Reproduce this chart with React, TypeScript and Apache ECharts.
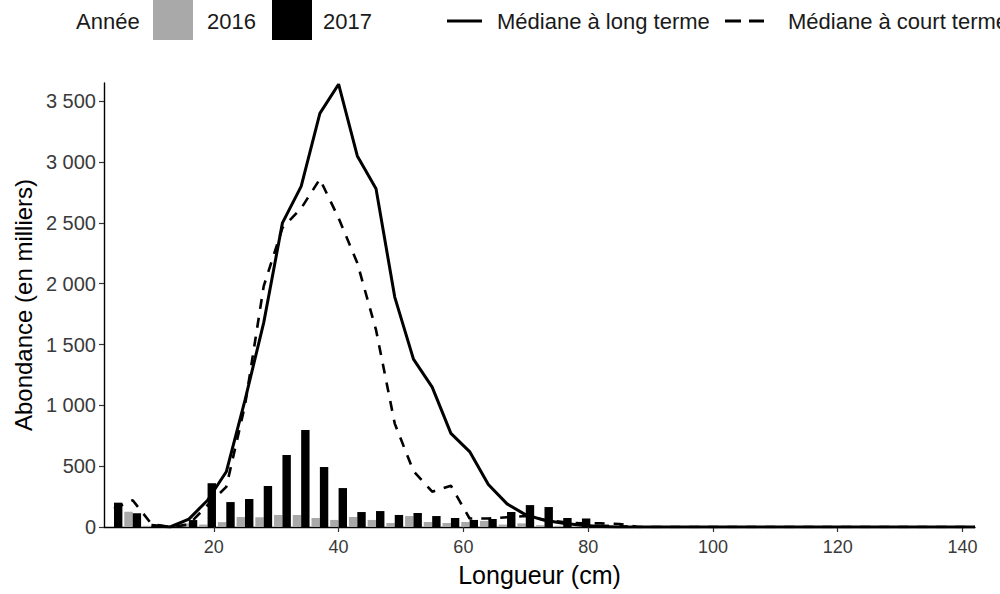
import React, { useEffect, useRef } from "react";
import * as echarts from "echarts";

// Length classes (cm), bin centres
const lengthCm = [
  4, 7, 10, 13, 16, 19, 22, 25, 28, 31, 34, 37, 40, 43, 46, 49, 52, 55, 58, 61,
  64, 67, 70, 73, 76, 79, 82, 85, 88, 91, 94, 97, 100, 103, 106, 109, 112, 115,
  118, 121, 124, 127, 130, 133, 136, 139, 142,
];

// Abundance (thousands) by year
const abundance2016 = [
  0, 126, 10, 5, 30, 20, 40, 82, 80, 99, 99, 74, 58, 82, 58, 33, 90, 41, 33, 41,
  50, 20, 30, 15, 10, 5, 0, 0, 0, 0, 0, 0, 0, 0, 0, 0, 0, 0,
  0, 0, 0, 0, 0, 0, 0, 0, 0,
];
const abundance2017 = [
  200, 113, 10, 5, 57, 360, 205, 230, 337, 592, 797, 493, 320, 123, 131, 99, 115, 90, 74, 58,
  66, 123, 180, 164, 74, 70, 20, 15, 0, 0, 0, 0, 0, 0, 0, 0, 0, 0,
  0, 0, 0, 0, 0, 0, 0, 0, 0,
];

// Medians
const medianLongTerm: (number | null)[] = [
  null, null, 15, 0, 65, 220, 454, 1043, 1680, 2500, 2800, 3400, 3640, 3050, 2780, 1890, 1380, 1150, 770, 620,
  350, 190, 100, 55, 30, 15, 5, 0, 0, 0, 0, 0, 0, 0, 0, 0, 0, 0,
  0, 0, 0, 0, 0, 0, 0, 0, 0,
];
const medianShortTerm: (number | null)[] = [
  150, 220, 25, 0, 20, 180, 330, 1000, 1980, 2460, 2620, 2860, 2540, 2170, 1620, 850, 460, 290, 340, 70,
  70, 80, 90, 60, 40, 30, 30, 25, 0, 0, 0, 0, 0, 0, 0, 0, 0, 0,
  0, 0, 0, 0, 0, 0, 0, 0, 0,
];

const xTickValues = [20, 40, 60, 80, 100, 120, 140];
const yTickValues = [0, 500, 1000, 1500, 2000, 2500, 3000, 3500];

const FONT = "'Liberation Sans', Arial, Helvetica, sans-serif";

export default function App() {
  const ref = useRef<HTMLDivElement>(null);

  useEffect(() => {
    if (!ref.current) return;
    const chart = echarts.init(ref.current, null, { renderer: "svg" });
    const fmt = (v: number) =>
      String(v).replace(/\B(?=(\d{3})+(?!\d))/g, " ");
    const pairs = (arr: (number | null)[]) =>
      lengthCm
        .map((x, i) => [x, arr[i]])
        .filter((p) => p[1] !== null && p[1] !== undefined);

    chart.setOption({
      animation: false,
      backgroundColor: "#ffffff",
      grid: { left: 104, right: 25, top: 83, bottom: 67 },
      xAxis: {
        type: "value",
        min: 2.4,
        max: 142,
        name: "Longueur (cm)",
        nameLocation: "middle",
        nameGap: 35,
        nameTextStyle: { fontFamily: FONT, fontSize: 25, color: "#000" },
        axisLine: { show: true, onZero: false, lineStyle: { color: "#000", width: 1.4 } },
        axisTick: {
          show: true,
          length: 5,
          customValues: xTickValues,
          lineStyle: { color: "#333", width: 1.2 },
        },
        axisLabel: {
          customValues: xTickValues,
          margin: 11,
          fontFamily: FONT,
          fontSize: 18,
          color: "#3a3a3a",
          formatter: (v: number) => fmt(v),
        },
        splitLine: { show: false },
      },
      yAxis: {
        type: "value",
        min: 0,
        max: 3650,
        name: "Abondance (en milliers)",
        nameLocation: "middle",
        nameGap: 64,
        nameRotate: 90,
        nameTextStyle: { fontFamily: FONT, fontSize: 24, color: "#000" },
        axisLine: { show: true, lineStyle: { color: "#000", width: 1.4 } },
        axisTick: {
          show: true,
          length: 5,
          customValues: yTickValues,
          lineStyle: { color: "#333", width: 1.2 },
        },
        axisLabel: {
          customValues: yTickValues,
          margin: 8,
          fontFamily: FONT,
          fontSize: 20,
          color: "#3a3a3a",
          formatter: (v: number) => fmt(v),
        },
        splitLine: { show: false },
      },
      series: [
        {
          name: "2016",
          type: "bar",
          barWidth: 8.4,
          barGap: "0%",
          itemStyle: { color: "#A9A9A9" },
          data: pairs(abundance2016),
          z: 2,
        },
        {
          name: "2017",
          type: "bar",
          barWidth: 8.4,
          barGap: "0%",
          itemStyle: { color: "#000000" },
          data: pairs(abundance2017),
          z: 2,
        },
        {
          name: "Médiane à long terme",
          type: "line",
          symbol: "none",
          lineStyle: { color: "#000", width: 3, type: "solid" },
          data: pairs(medianLongTerm),
          z: 3,
        },
        {
          name: "Médiane à court terme",
          type: "line",
          symbol: "none",
          lineStyle: { color: "#000", width: 2.6, type: [10, 9] },
          data: pairs(medianShortTerm),
          z: 3,
        },
      ],
      graphic: [
        {
          type: "text",
          x: 76,
          y: 21,
          style: { text: "Année", fontFamily: FONT, fontSize: 22, fill: "#1a1a1a", verticalAlign: "middle" },
        },
        { type: "rect", shape: { x: 153, y: 0, width: 40, height: 40 }, style: { fill: "#A9A9A9" } },
        {
          type: "text",
          x: 207,
          y: 21,
          style: { text: "2016", fontFamily: FONT, fontSize: 22, fill: "#1a1a1a", verticalAlign: "middle" },
        },
        { type: "rect", shape: { x: 272, y: 0, width: 40, height: 40 }, style: { fill: "#000" } },
        {
          type: "text",
          x: 323,
          y: 21,
          style: { text: "2017", fontFamily: FONT, fontSize: 22, fill: "#1a1a1a", verticalAlign: "middle" },
        },
        {
          type: "line",
          shape: { x1: 447, y1: 21, x2: 482, y2: 21 },
          style: { stroke: "#000", lineWidth: 3 },
        },
        {
          type: "text",
          x: 497,
          y: 21,
          style: { text: "Médiane à long terme", fontFamily: FONT, fontSize: 22, fill: "#1a1a1a", verticalAlign: "middle" },
        },
        {
          type: "line",
          shape: { x1: 725, y1: 21, x2: 764, y2: 21 },
          style: { stroke: "#000", lineWidth: 3, lineDash: [16, 8] },
        },
        {
          type: "text",
          x: 788,
          y: 21,
          style: { text: "Médiane à court terme", fontFamily: FONT, fontSize: 22, fill: "#1a1a1a", verticalAlign: "middle" },
        },
      ],
    });

    return () => chart.dispose();
  }, []);

  return (
    <div
      ref={ref}
      style={{ position: "fixed", left: 0, top: 0, width: 1000, height: 594, background: "#fff" }}
    />
  );
}
